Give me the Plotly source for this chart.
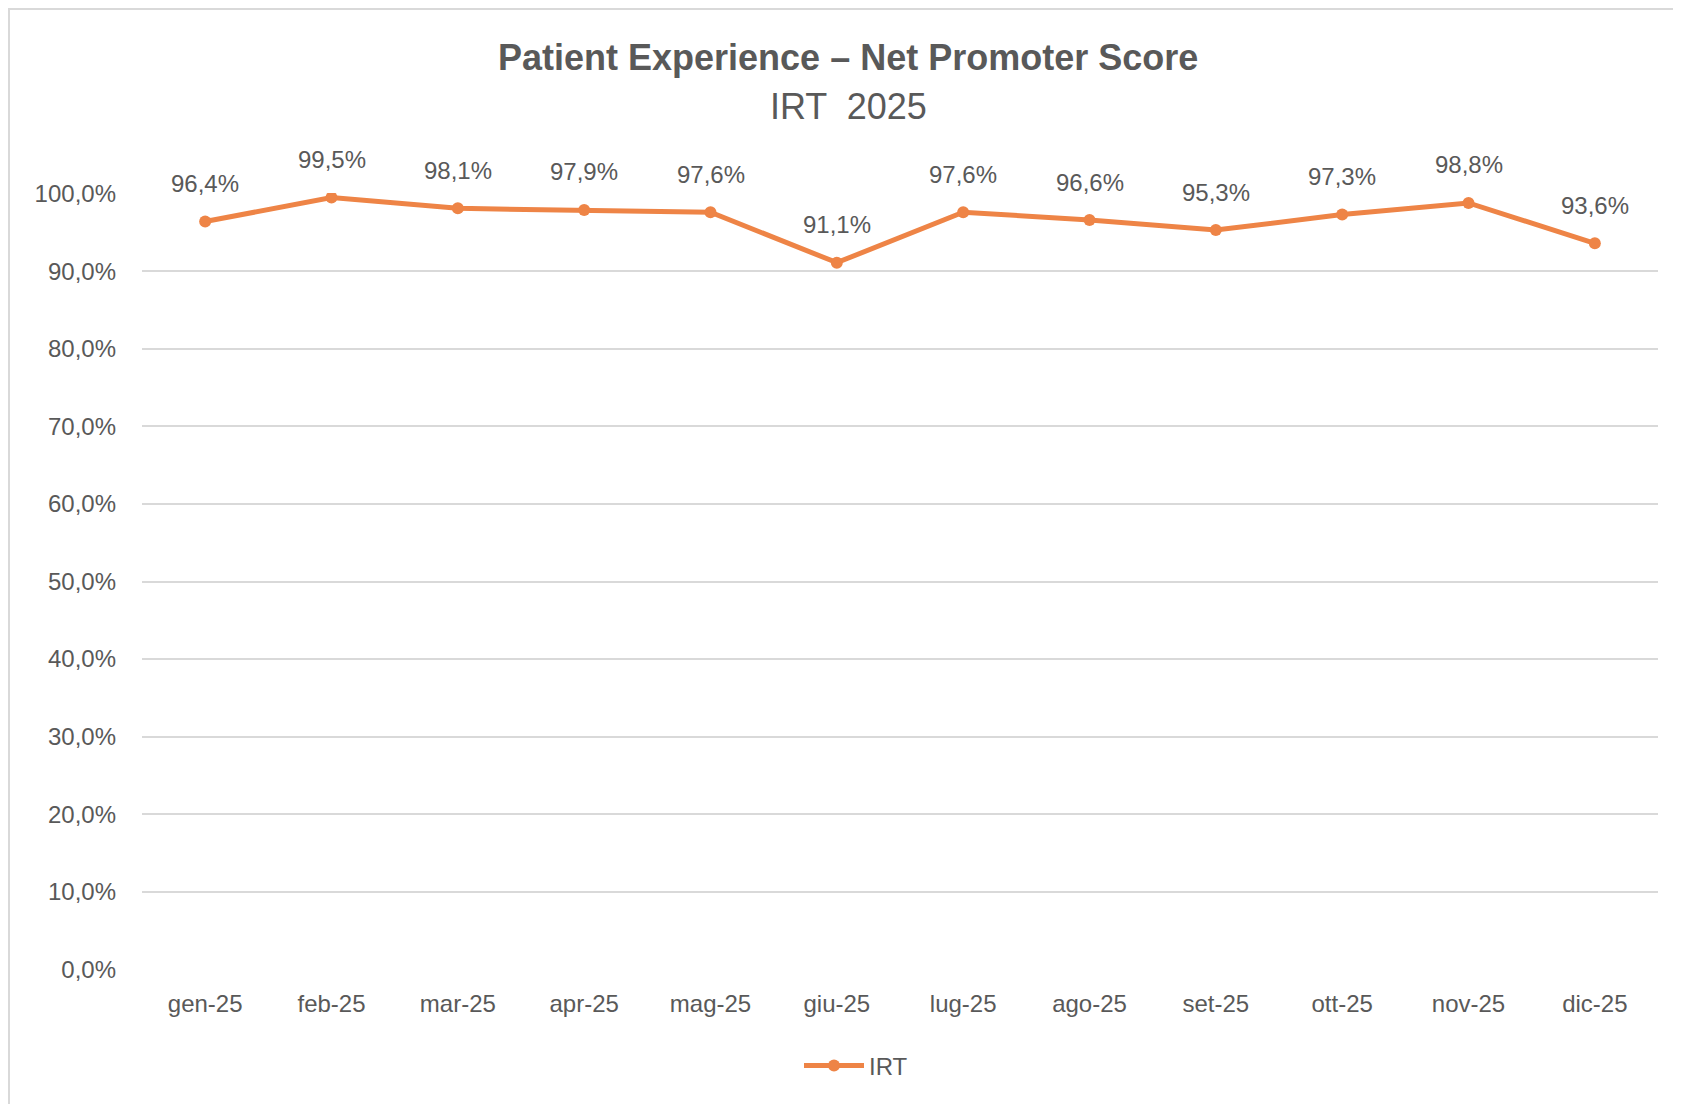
import plotly.graph_objects as go

months = ["gen-25", "feb-25", "mar-25", "apr-25", "mag-25", "giu-25",
          "lug-25", "ago-25", "set-25", "ott-25", "nov-25", "dic-25"]
irt_values = [0.964, 0.995, 0.981, 0.979, 0.976, 0.911,
              0.976, 0.966, 0.953, 0.973, 0.988, 0.936]
y_ticks = [0.0, 0.1, 0.2, 0.3, 0.4, 0.5, 0.6, 0.7, 0.8, 0.9, 1.0]

FONT = "Liberation Sans, Arial, sans-serif"
TXT = "#595959"
ORANGE = "#EE8446"

W, H = 1681, 1104
OFF = 8  # default page body margin
PL, PR, PT, PB = 142, 1658, 193, 970  # plot area in page pixels
L, T = PL - OFF, PT - OFF
R, B = W + OFF - PR, H + OFF - PB
pw, ph = PR - PL, PB - PT

def px_x(x):
    return (x - PL) / pw

def px_y(y):
    return (PB - y) / ph

fig = go.Figure()
fig.add_trace(go.Scatter(
    x=months, y=irt_values, name="IRT", mode="lines+markers",
    line=dict(color=ORANGE, width=5),
    marker=dict(color=ORANGE, size=12),
))

for m, v in zip(months, irt_values):
    fig.add_annotation(x=m, y=v, text=f"{v*100:.1f}%".replace(".", ","),
                       showarrow=False, yshift=38, yanchor="middle",
                       font=dict(family=FONT, size=24, color=TXT))

fig.add_annotation(xref="paper", yref="paper", x=px_x(848), y=px_y(58),
                   text="<b>Patient Experience – Net Promoter Score</b>",
                   showarrow=False, xanchor="center", yanchor="middle",
                   font=dict(family=FONT, size=36, color=TXT))
fig.add_annotation(xref="paper", yref="paper", x=px_x(848), y=px_y(107),
                   text="IRT  2025",
                   showarrow=False, xanchor="center", yanchor="middle",
                   font=dict(family=FONT, size=36, color=TXT))

fig.add_shape(type="rect", xref="paper", yref="paper",
              x0=px_x(9), x1=px_x(1720), y0=px_y(1130), y1=px_y(9),
              line=dict(color="#D9D9D9", width=2), fillcolor="rgba(0,0,0,0)",
              layer="below")

fig.update_layout(
    width=W, height=H,
    margin=dict(l=L, r=R, t=T, b=B),
    paper_bgcolor="white", plot_bgcolor="white",
    separators=",.",
    font=dict(family=FONT, size=24, color=TXT),
    showlegend=True,
    legend=dict(orientation="h", x=px_x(856), y=px_y(1066),
                xanchor="center", yanchor="middle", itemwidth=60,
                font=dict(family=FONT, size=24, color=TXT)),
    xaxis=dict(type="category", range=[-0.5, 11.5], showgrid=False,
               showline=False, ticks="", tickfont=dict(size=24, color=TXT),
               ticklabelstandoff=17),
    yaxis=dict(range=[-0.0008, 1.0008], tickvals=y_ticks, tickformat=".1%",
               showgrid=True, gridcolor="#D9D9D9", gridwidth=1.5,
               zeroline=False, showline=False, ticks="",
               tickfont=dict(size=24, color=TXT), ticklabelstandoff=25),
)

fig.write_html("out.html")
